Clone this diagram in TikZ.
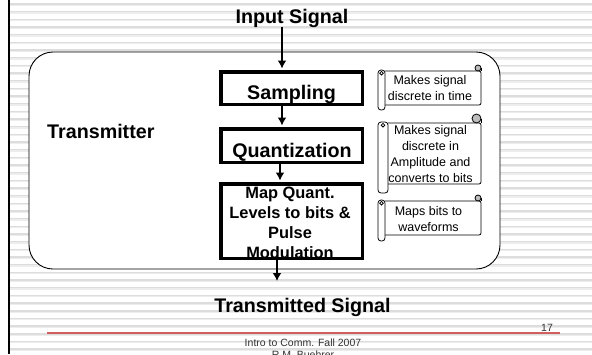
\documentclass[tikz,border=0pt]{standalone}
\usepackage{fontspec}
\setmainfont{Liberation Sans}
\usetikzlibrary{arrows.meta}

\definecolor{stripeDark}{HTML}{DDDDDD}
\definecolor{stripeLight}{HTML}{EDEDED}
\definecolor{ruleRed}{HTML}{D25F5F}
\definecolor{curlGray}{HTML}{BDBDBD}

\tikzset{
  frame/.style={draw=black, line width=0.9pt, fill=white, rounded corners=24pt},
  stepbox/.style={draw=black, line width=3.5pt, fill=white, inner sep=0pt},
  bigtext/.style={font=\bfseries\fontsize{19.7}{23}\selectfont, inner sep=0pt},
  boxtext/.style={font=\bfseries\fontsize{19.7}{23}\selectfont, inner sep=0pt},
  maptext/.style={font=\bfseries\fontsize{16.4}{19.7}\selectfont, inner sep=0pt, align=center},
  scrolltext/.style={font=\fontsize{12.5}{16}\selectfont, inner sep=0pt, align=center},
  scrollline/.style={draw=black, line width=0.8pt},
  foot/.style={font=\fontsize{10.5}{12}\selectfont, text=black!80, inner sep=0pt},
  flow/.style={line width=2.4pt, -{Latex[length=8pt,width=9pt]}},
}

% scroll: tube-left, body-top, body-right, body-bottom, tube width, curl radius, tube bottom
\newcommand\scrollshape[7]{%
  \draw[scrollline, fill=white, rounded corners=2pt]
    (#1+#5,#2) -- (#3,#2) -- (#3,#4) -- (#1+#5,#4);
  \draw[scrollline] (#3,#2) -- (#3,#2-#6);
  \draw[scrollline, fill=curlGray] (#3-#6,#2-#6) circle[radius=#6 pt];
  \draw[scrollline, fill=white, rounded corners=3pt] (#1,#2-1) rectangle (#1+#5,#7);
  \draw[scrollline] (#1+#5/2,#2+2.2) circle[radius=1.8pt];
}

\begin{document}
\begin{tikzpicture}[x=1pt, y=-1pt]
  \useasboundingbox (0,0) rectangle (592,354);
  \clip (0,0) rectangle (592,354);
  \fill[white] (0,0) rectangle (592,354);

  % ruled background and left bar
  \foreach \i in {0,...,46} {
    \fill[stripeDark] (10.2,3.3+7.67*\i) rectangle (592,4.7+7.67*\i);
    \fill[stripeLight] (10.2,4.7+7.67*\i) rectangle (592,6.0+7.67*\i);
  }
  \fill[black] (7.5,0) rectangle (10.2,354);

  % transmitter frame
  \node[frame, minimum width=471pt, minimum height=217pt] (tx) at (264.5,160.5) {};
  \node[bigtext, anchor=base west] (txlbl) at (47,138) {Transmitter};

  % processing chain
  \node[bigtext, anchor=base] (inp) at (292,23) {Input Signal};
  \node[stepbox, minimum width=141.5pt, minimum height=32.5pt] (samp) at (291.5,88) {};
  \node[boxtext, anchor=base] (sampT) at (291.5,99) {Sampling};
  \node[stepbox, minimum width=141.5pt, minimum height=33.5pt] (quant) at (291.5,145.5) {};
  \node[boxtext, anchor=base] (quantT) at (292,157) {Quantization};
  \node[stepbox, minimum width=141.5pt, minimum height=74.5pt] (map) at (291.5,221) {};
  \node[maptext, anchor=north] (mapT) at (290,187.3)
    {Map Quant.\\Levels to bits \&\\Pulse\\Modulation};
  \node[bigtext, anchor=base] (outp) at (302.5,312) {Transmitted Signal};
  \coordinate (outEnd) at (277,281);

  \draw[flow] ([xshift=-10pt]inp.south) -- ([xshift=-9.5pt,yshift=1.5pt]samp.north);
  \draw[flow] ([xshift=-9.5pt]samp.south) -- ([xshift=-9.5pt,yshift=1.5pt]quant.north);
  \draw[flow] ([xshift=-11.5pt]quant.south) -- ([xshift=-11.5pt,yshift=1.5pt]map.north);
  \draw[flow] ([xshift=-14.5pt]map.south) -- (outEnd);

  % notes
  \scrollshape{378}{71}{481}{105}{7}{3}{110}
  \node[scrolltext, anchor=north] (note1) at (430,74.9) {Makes signal\\discrete in time};
  \scrollshape{378}{123}{481}{184}{10}{4.5}{193}
  \node[scrolltext, anchor=north] (note2) at (430.5,124.9)
    {Makes signal\\discrete in\\Amplitude and\\converts to bits};
  \scrollshape{378}{201}{481}{235}{7}{3}{241}
  \node[scrolltext, anchor=north] (note3) at (428.5,205.9) {Maps bits to\\waveforms};

  % footer
  \draw[ruleRed, line width=2pt] (47,332.7) -- (560,332.7);
  \node[foot, anchor=base] (pg) at (547,331) {17};
  \node[foot, anchor=base] (course) at (303,346.5) {Intro to Comm. Fall 2007};
  \node[foot, anchor=base] (author) at (303,358.5) {R.M. Buehrer};
\end{tikzpicture}
\end{document}
